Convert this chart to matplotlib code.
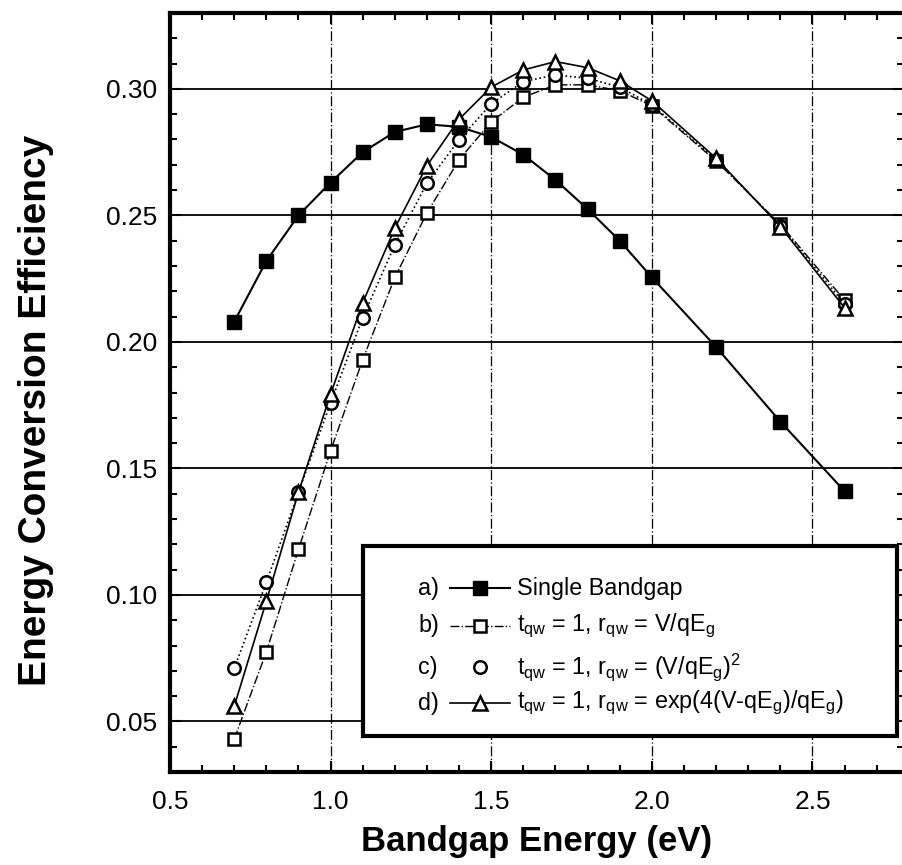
import matplotlib
matplotlib.use("Agg")
import matplotlib.pyplot as plt
from matplotlib.lines import Line2D
from matplotlib.patches import Rectangle
from matplotlib.ticker import MultipleLocator

plt.rcParams['font.family'] = ['Liberation Sans', 'DejaVu Sans']
plt.rcParams['mathtext.default'] = 'regular'

# === Data ===
bandgap = [0.7, 0.8, 0.9, 1.0, 1.1, 1.2, 1.3, 1.4, 1.5, 1.6, 1.7, 1.8, 1.9, 2.0, 2.2, 2.4, 2.6]

single_gap = [0.208, 0.232, 0.250, 0.263, 0.275, 0.283, 0.286, 0.285, 0.281, 0.274,
              0.264, 0.2525, 0.240, 0.2255, 0.198, 0.1685, 0.141]
qw_linear = [0.043, 0.0775, 0.118, 0.157, 0.193, 0.2255, 0.251, 0.272, 0.287, 0.2967,
             0.3016, 0.3016, 0.2993, 0.2933, 0.2715, 0.2465, 0.2165]
qw_square = [0.071, 0.105, 0.1406, 0.1759, 0.2096, 0.2384, 0.2628, 0.2799, 0.2941, 0.3029,
             0.3055, 0.3042, 0.3007, 0.2937, 0.272, 0.246, 0.215]
qw_exp = [0.056, 0.0975, 0.1406, 0.1794, 0.2155, 0.245, 0.2697, 0.288, 0.3007, 0.3075,
          0.3108, 0.3084, 0.3032, 0.2953, 0.2726, 0.2456, 0.2135]

tags = ["a)", "b)", "c)", "d)"]
labels = ["Single Bandgap",
          r"t$_{qw}$ = 1, r$_{qw}$ = V/qE$_g$",
          r"t$_{qw}$ = 1, r$_{qw}$ = (V/qE$_g$)$^2$",
          r"t$_{qw}$ = 1, r$_{qw}$ = exp(4(V-qE$_g$)/qE$_g$)"]

# === Styles ===
styles = [
    dict(ls='-', lw=1.5, marker='s', ms=10, mfc='black', mec='black'),
    dict(ls='-.', lw=1.0, marker='s', ms=9, mfc='white', mec='black', mew=1.8),
    dict(ls=':', lw=1.2, marker='o', ms=9, mfc='white', mec='black', mew=1.8),
    dict(ls='-', lw=1.2, marker='^', ms=10.5, mfc='white', mec='black', mew=1.8),
]

W, H = 903, 865
fig = plt.figure(figsize=(W / 100, H / 100), dpi=100)
ax = fig.add_axes([170 / W, 1 - 772 / H, (904 - 170) / W, (772 - 13) / H])

series = [single_gap, qw_linear, qw_square, qw_exp]
for ys, st in zip(series, styles):
    ax.plot(bandgap, ys, color='black', zorder=3, **st)

ax.set_xlim(0.5, 2.785)
ax.set_ylim(0.03, 0.33)
ax.xaxis.set_minor_locator(MultipleLocator(0.1))
ax.yaxis.set_minor_locator(MultipleLocator(0.01))
ax.set_xticks([0.5, 1.0, 1.5, 2.0, 2.5])
ax.set_xticklabels(["0.5", "1.0", "1.5", "2.0", "2.5"])
ax.set_yticks([0.05, 0.10, 0.15, 0.20, 0.25, 0.30])
ax.set_yticklabels(["0.05", "0.10", "0.15", "0.20", "0.25", "0.30"])

ax.yaxis.grid(True, which='major', color='black', lw=1.3, ls='-')
ax.xaxis.grid(True, which='major', color='black', lw=0.9, ls=(0, (8, 2, 1, 2)))
ax.set_axisbelow(True)

ax.tick_params(which='both', direction='in', top=True, right=True, width=1.5, colors='black')
ax.tick_params(which='major', length=8, labelsize=19)
ax.tick_params(axis='x', which='major', pad=13)
ax.tick_params(axis='y', which='major', pad=9)
ax.tick_params(which='minor', length=5)
for sp in ax.spines.values():
    sp.set_linewidth(3)

ax.set_xlabel("Bandgap Energy (eV)", fontsize=25, fontweight='bold', labelpad=8)
ax.set_ylabel("Energy Conversion Efficiency", fontsize=28, fontweight='bold')
ax.yaxis.set_label_coords(-0.158, 0.477)

# === Legend box drawn by hand (tag, handle, text) ===
ax.add_patch(Rectangle((0.263, 0.047), 0.727, 0.251, transform=ax.transAxes,
                       facecolor='white', edgecolor='black', lw=3, zorder=5))
rows = [0.2424, 0.1924, 0.1383, 0.0909]
for tag, lab, st, ry in zip(tags, labels, styles, rows):
    ax.text(0.338, ry, tag, transform=ax.transAxes, fontsize=16.8, va='center', zorder=6)
    hs = dict(st)
    if hs['ls'] == ':':
        hs['ls'] = 'none'
    ax.add_line(Line2D([0.381, 0.422, 0.463], [ry, ry, ry], transform=ax.transAxes,
                       color='black', markevery=[1], zorder=6, **hs))
    ax.text(0.473, ry, lab, transform=ax.transAxes, fontsize=16.8, va='center', zorder=6)

fig.savefig("out.png", dpi=100)
